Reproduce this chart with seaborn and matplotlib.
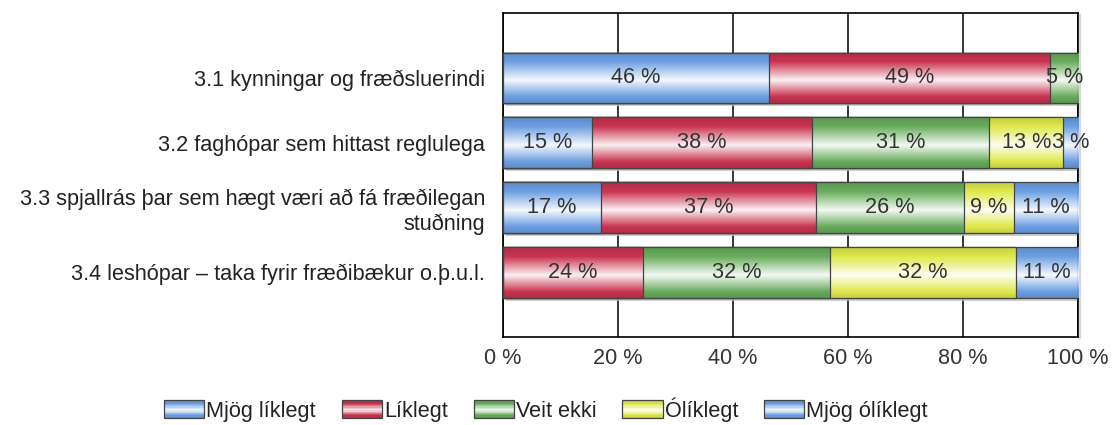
import numpy as np
import pandas as pd
import matplotlib
matplotlib.use('Agg')
import matplotlib.pyplot as plt
import matplotlib.colors as mcolors
import matplotlib.transforms as mtransforms
import matplotlib.patheffects as pe
from matplotlib.colors import LinearSegmentedColormap
from matplotlib.patches import Rectangle, Patch
from matplotlib.legend_handler import HandlerBase
import seaborn as sns

# ----------------------------------------------------
# data
# ----------------------------------------------------
categories = [
    '3.1 kynningar og fræðsluerindi',
    '3.2 faghópar sem hittast reglulega',
    '3.3 spjallrás þar sem hægt væri að fá fræðilegan\nstuðning',
    '3.4 leshópar – taka fyrir fræðibækur o.þ.u.l.',
]
series_names = ['Mjög líklegt', 'Líklegt', 'Veit ekki', 'Ólíklegt', 'Mjög ólíklegt']
mjog_liklegt = [46.3, 15.4, 17.0, 0.0]
liklegt = [48.9, 38.4, 37.4, 24.4]
veit_ekki = [4.8, 30.8, 25.8, 32.4]
oliklegt = [0.0, 12.8, 8.6, 32.4]
mjog_oliklegt = [0.0, 2.6, 11.2, 10.8]
series_colors = ['#6c9fe2', '#c9344f', '#68ac5c', '#dfe94a', '#6c9fe2']
xticks = [0, 20, 40, 60, 80, 100]

series_values = [mjog_liklegt, liklegt, veit_ekki, oliklegt, mjog_oliklegt]

df = pd.DataFrame({'flokkur': categories})
for name, vals in zip(series_names, series_values):
    df[name] = vals
cum = df[series_names].cumsum(axis=1)

FS = 15.6


def gloss_cmap(c):
    c = np.array(mcolors.to_rgb(c))
    dark = c * 0.88
    light = c + (1 - c) * 0.93
    return LinearSegmentedColormap.from_list(
        'gloss', [(0, dark), (0.18, c), (0.55, light), (0.88, c), (1, dark)])


class GlossHandler(HandlerBase):
    def __init__(self, cmap):
        super().__init__()
        self.cmap = cmap

    def create_artists(self, legend, orig_handle, xdescent, ydescent,
                       width, height, fontsize, trans):
        arts = []
        n = 14
        for i in range(n):
            y = -ydescent + height - (i + 1) * height / n
            r = Rectangle((-xdescent, y), width, height / n,
                          facecolor=self.cmap(i / (n - 1)), edgecolor='none',
                          transform=trans)
            arts.append(r)
        arts.append(Rectangle((-xdescent, -ydescent), width, height,
                              facecolor='none', edgecolor='#444', lw=0.9,
                              transform=trans))
        return arts


sns.set_style('white')
plt.rcParams['font.family'] = ['Liberation Sans', 'DejaVu Sans']

fig = plt.figure(figsize=(11.14, 4.25), dpi=100)
ax = fig.add_axes([0.4515, 0.207, 0.5162, 0.762])

# stacked bars: draw the cumulative totals from the last series back to the first
bar_w = 0.78
shadow_tr = ax.transData + mtransforms.ScaledTranslation(3 / 100, -3 / 100, fig.dpi_scale_trans)
for k in range(len(series_names) - 1, -1, -1):
    n_before = len(ax.patches)
    sns.barplot(x=cum[series_names[k]].values, y=df['flokkur'], orient='h',
                color=series_colors[k], width=bar_w, ax=ax,
                edgecolor='none', linewidth=0, zorder=3 + 2 * (4 - k))
    new = ax.patches[n_before:]
    cmap = gloss_cmap(series_colors[k])
    grad = np.linspace(0, 1, 80).reshape(-1, 1)
    for p in new:
        x0, y0 = p.get_x(), p.get_y()
        w, h = p.get_width(), p.get_height()
        z = 3 + 2 * (4 - k)
        if k == len(series_names) - 1:
            sh = Rectangle((x0, y0), w, h, facecolor='#c4c4c4', edgecolor='none',
                           transform=shadow_tr, zorder=2.5, alpha=0.8)
            ax.add_artist(sh)
        im = ax.imshow(grad, cmap=cmap, extent=(x0, x0 + w, y0 + h, y0),
                       origin='upper', aspect='auto', zorder=z,
                       interpolation='bilinear')
        im.set_clip_path(p)
        p.set_facecolor('none')
        p.set_edgecolor('#444444')
        p.set_linewidth(0.9)
        p.set_zorder(z + 1)

# value labels
for i in range(len(categories)):
    start = 0.0
    for k, name in enumerate(series_names):
        v = df[name].iloc[i]
        if v > 0:
            ax.text(start + v / 2, i, f'{v:.0f} %', ha='center', va='center',
                    fontsize=FS, color='#333333', zorder=20)
        start += v

ax.set_xlim(0, 100)
ax.set_ylim(4, -1)
ax.set_xticks(xticks)
ax.set_xticklabels([f'{t} %' for t in xticks], fontsize=FS, color='#333333')
ax.set_yticks([-1, 0, 1, 2, 3, 4])
ax.set_yticklabels([''] + categories + [''], fontsize=FS, color='#222222',
                   ha='right', multialignment='right')
ax.set_xlabel('')
ax.set_ylabel('')
ax.tick_params(axis='y', length=10, width=1.2, color='black', direction='out', pad=3)
ax.tick_params(axis='x', length=5, width=1.2, color='black', direction='out', pad=3)
ax.xaxis.grid(True, color='black', lw=1.1)
ax.yaxis.grid(False)
ax.set_axisbelow(True)
for s in ax.spines.values():
    s.set_visible(True)
    s.set_color('black')
    s.set_linewidth(1.2)
ax.spines['right'].set_path_effects([
    pe.SimpleLineShadow(offset=(1.5, -1), shadow_color='#aaaaaa', alpha=0.45, linewidth=1.6),
    pe.Normal()])

# legend
handles = [Patch(label=n) for n in series_names]
hmap = {h: GlossHandler(gloss_cmap(c)) for h, c in zip(handles, series_colors)}
fig.legend(handles=handles, labels=series_names, handler_map=hmap,
           loc='center', bbox_to_anchor=(0.49, 0.037), ncol=5, frameon=False,
           fontsize=FS, handlelength=1.85, handleheight=0.9, handletextpad=0.1,
           columnspacing=1.2, labelcolor='#222222')

fig.savefig('out.png', dpi=100)
